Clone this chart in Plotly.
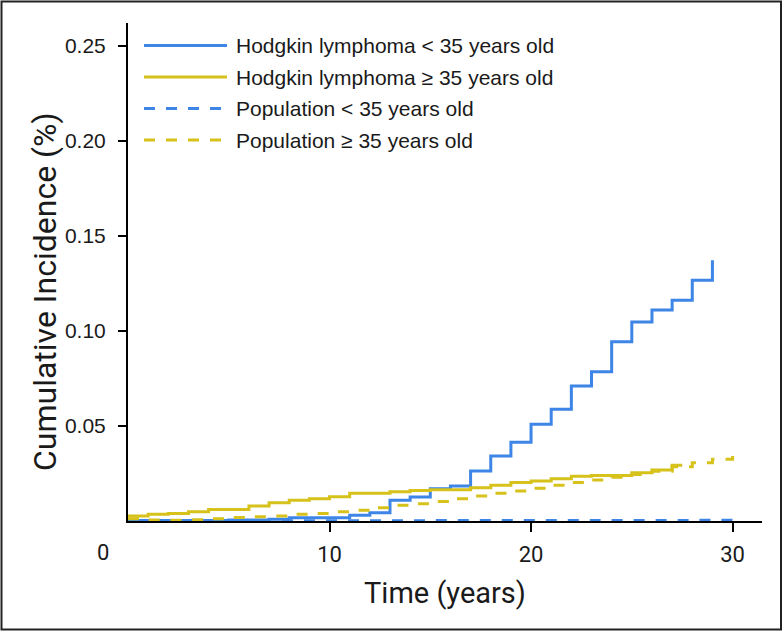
"""Cumulative incidence of Hodgkin lymphoma vs. population, by age group."""

import plotly.graph_objects as go

# --- data -----------------------------------------------------------------
HL_YOUNG_T = [0, 5, 7, 8, 11, 12, 13, 14, 15, 16, 17, 18, 19, 20, 21, 22,
              23, 24, 25, 26, 27, 28, 29]
HL_YOUNG_V = [0.0002, 0.0005, 0.0009, 0.0017, 0.0030, 0.0044, 0.0109, 0.0126,
              0.0170, 0.0184, 0.0263, 0.0342, 0.0414, 0.0509, 0.0588, 0.0711,
              0.0786, 0.0944, 0.1047, 0.1110, 0.1162, 0.1267, 0.1372]

HL_OLD_T = [0, 1, 2, 3, 4, 6, 7, 8, 9, 10, 11, 13, 14, 15, 17, 18, 19, 20,
            21, 22, 23, 25, 26, 27, 27.5]
HL_OLD_V = [0.0026, 0.0035, 0.0040, 0.0049, 0.0061, 0.0079, 0.0096, 0.0109,
            0.0117, 0.0128, 0.0146, 0.0154, 0.0161, 0.0165, 0.0175, 0.0188,
            0.0202, 0.0210, 0.0223, 0.0235, 0.0240, 0.0254, 0.0268, 0.0293,
            0.0293]

POP_T = list(range(0, 31))
POP_YOUNG_V = [0.0001, 0.0001, 0.0001, 0.0001, 0.0001, 0.0001, 0.0001, 0.0001,
               0.0001, 0.0001, 0.0001, 0.0001, 0.0001, 0.0001, 0.0001, 0.0002,
               0.0002, 0.0002, 0.0002, 0.0002, 0.0002, 0.0002, 0.0002, 0.0003,
               0.0003, 0.0003, 0.0003, 0.0003, 0.0004, 0.0004, 0.0004]
POP_OLD_V = [0.0012, 0.0005, 0.0004, 0.0006, 0.0012, 0.0018, 0.0023, 0.0026,
             0.0035, 0.0040, 0.0049, 0.0056, 0.0070, 0.0083, 0.0091, 0.0102,
             0.0117, 0.0132, 0.0146, 0.0158, 0.0172, 0.0188, 0.0202, 0.0216,
             0.0230, 0.0245, 0.0262, 0.0285, 0.0307, 0.0325, 0.0342]

SERIES_NAMES = [
    "Hodgkin lymphoma < 35 years old",
    "Hodgkin lymphoma \u2265 35 years old",
    "Population < 35 years old",
    "Population \u2265 35 years old",
]
X_TICKS = [10, 20, 30]
Y_TICKS = [0.05, 0.10, 0.15, 0.20, 0.25]
Y_TICK_TEXT = ["0.05", "0.10", "0.15", "0.20", "0.25"]

# --- style ----------------------------------------------------------------
BLUE = "#3d85e6"
YELLOW = "#d6c21a"
DASH = "11px,11px"
INK = "#1a1a1a"
PLAIN = "Liberation Sans, Arial, sans-serif"
NARROW = "Roboto, Liberation Sans, sans-serif"

W, H = 783, 631
M = dict(l=128, r=21, t=23, b=110)
PW = W - M["l"] - M["r"]
PH = H - M["t"] - M["b"]


def px_x(x):
    """Pixel column -> paper x."""
    return (x - M["l"]) / PW


def px_y(y):
    """Pixel row -> paper y."""
    return (H - M["b"] - y) / PH


series = [
    (HL_YOUNG_T, HL_YOUNG_V, BLUE, "solid"),
    (HL_OLD_T, HL_OLD_V, YELLOW, "solid"),
    (POP_T, POP_YOUNG_V, BLUE, DASH),
    (POP_T, POP_OLD_V, YELLOW, DASH),
]

fig = go.Figure()

for (t, v, color, dash), name in zip(series, SERIES_NAMES):
    fig.add_trace(go.Scatter(
        x=t,
        y=v,
        name=name,
        mode="lines",
        line=dict(color=color, width=3, dash=dash, shape="hv"),
        cliponaxis=False,
        showlegend=False,
    ))

# hand-drawn legend so the line samples are as long as in the original
shapes = []
annotations = []
for i, ((_, _, color, dash), name) in enumerate(zip(series, SERIES_NAMES)):
    row = px_y(45.5 + i * 31.5)
    shapes.append(dict(
        type="line", xref="paper", yref="paper",
        x0=px_x(144), x1=px_x(227), y0=row, y1=row,
        line=dict(color=color, width=3, dash=dash),
    ))
    annotations.append(dict(
        text=name, xref="paper", yref="paper",
        x=px_x(234), y=row, xanchor="left", yanchor="middle",
        showarrow=False, font=dict(family=PLAIN, size=21, color=INK),
    ))

# the "0" on the time axis sits left of the y axis in the original
annotations.append(dict(
    text="0", xref="paper", yref="paper",
    x=px_x(103), y=px_y(552), xanchor="center", yanchor="middle",
    showarrow=False, font=dict(family=NARROW, size=22, color=INK),
))

# y title sits a little below the middle of the axis in the original
annotations.append(dict(
    text="Cumulative Incidence (%)", xref="paper", yref="paper",
    x=px_x(45), y=px_y(292), xanchor="center", yanchor="middle",
    textangle=-90, showarrow=False,
    font=dict(family=NARROW, size=32, color=INK),
))

# outer frame round the whole picture
shapes.append(dict(
    type="rect", xref="paper", yref="paper",
    x0=px_x(1.5), x1=px_x(781), y0=px_y(629.5), y1=px_y(1.5),
    line=dict(color="#222222", width=2),
))

fig.update_layout(
    width=W,
    height=H,
    margin=M,
    plot_bgcolor="white",
    paper_bgcolor="white",
    shapes=shapes,
    annotations=annotations,
    xaxis=dict(
        range=[0, 31.46],
        tickvals=X_TICKS,
        ticks="outside",
        ticklen=9,
        tickwidth=1.5,
        tickcolor="black",
        showline=True,
        linewidth=2,
        linecolor="black",
        showgrid=False,
        zeroline=False,
        layer="below traces",
        ticklabelstandoff=4,
        tickfont=dict(family=NARROW, size=22, color=INK),
        title=dict(text="Time (years)", standoff=16,
                   font=dict(family=NARROW, size=29, color=INK)),
    ),
    yaxis=dict(
        range=[0, PH / 1900],
        tickvals=Y_TICKS,
        ticktext=Y_TICK_TEXT,
        ticks="outside",
        ticklen=8,
        tickwidth=1.5,
        tickcolor="black",
        showline=True,
        linewidth=2,
        linecolor="black",
        showgrid=False,
        zeroline=False,
        layer="below traces",
        ticklabelstandoff=8,
        tickfont=dict(family=PLAIN, size=21, color=INK),
    ),
)

# the page body has an 8px margin by default; drop it so the frame fits
fig.write_html(
    "out.html",
    config={"displayModeBar": False},
    post_script="document.body.style.margin='0';",
)
